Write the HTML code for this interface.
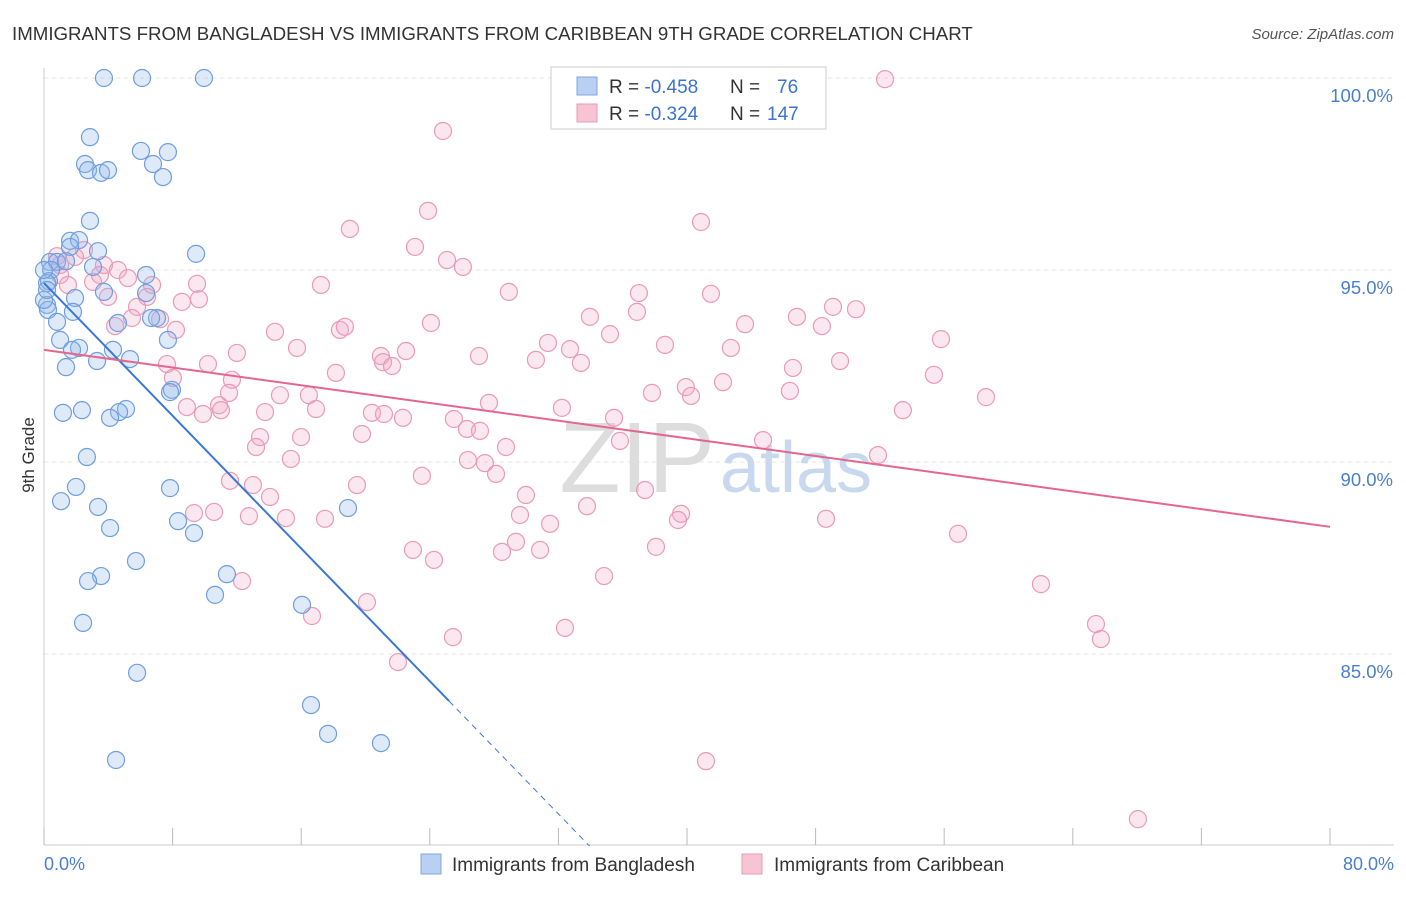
<!DOCTYPE html>
<html><head><meta charset="utf-8"><style>
body{margin:0;background:#fff;font-family:"Liberation Sans",sans-serif;}
svg text{font-family:"Liberation Sans",sans-serif;}
</style></head><body>
<svg width="1406" height="892" xmlns="http://www.w3.org/2000/svg">
<text x="12" y="40" font-size="18.7" fill="#333">IMMIGRANTS FROM BANGLADESH VS IMMIGRANTS FROM CARIBBEAN 9TH GRADE CORRELATION CHART</text>
<text x="1394" y="39" font-size="15" fill="#555" font-style="italic" text-anchor="end">Source: ZipAtlas.com</text>
<g id="grid"></g>
<text x="715" y="492" font-size="100" fill="#ddd" text-anchor="end" font-family="Liberation Serif">ZIP</text>
<text x="720" y="492" font-size="72" fill="#c8d8ee">atlas</text>
<text x="34" y="455" font-size="17" fill="#333" transform="rotate(-90 34 455)" text-anchor="middle">9th Grade</text>
<g id="pts"></g>
<g id="lines"></g>
<g>
<rect x="551" y="67" width="275" height="62" fill="#fff" stroke="#ccc"/>
<rect x="577" y="77" width="20" height="18" fill="#b9d0f2" stroke="#7fa6e0"/>
<rect x="577" y="104" width="20" height="18" fill="#f7c4d4" stroke="#eb9ab5"/>
<text x="609" y="93" font-size="19" fill="#333">R = <tspan fill="#3b73d0">-0.458</tspan></text>
<text x="730" y="93" font-size="19" fill="#333">N =</text>
<text x="777" y="93" font-size="19" fill="#3b73d0">76</text>
<text x="609" y="120" font-size="19" fill="#333">R = <tspan fill="#3b73d0">-0.324</tspan></text>
<text x="730" y="120" font-size="19" fill="#333">N =</text>
<text x="767" y="120" font-size="19" fill="#3b73d0">147</text>
</g>
<g>
<rect x="421" y="854" width="20" height="20" fill="#b9d0f2" stroke="#7fa6e0"/>
<text x="452" y="871" font-size="19" fill="#333">Immigrants from Bangladesh</text>
<rect x="742" y="854" width="20" height="20" fill="#f7c4d4" stroke="#eb9ab5"/>
<text x="774" y="871" font-size="19" fill="#333">Immigrants from Caribbean</text>
</g>
</svg>
<script>
const yTicks=[100,95,90,85];
const xTickLabels=["0.0%","80.0%"];
const blueX=[3.73,6.10,9.95,2.86,6.03,7.71,2.55,6.78,2.74,3.55,3.98,7.40,2.86,1.62,2.18,3.36,1.62,9.46,0.37,0.81,1.37,0.44,3.05,6.35,0.31,0.19,3.73,6.35,1.93,0.19,0.25,1.80,7.03,6.66,4.60,0.81,1.0,2.18,1.74,4.29,7.71,3.30,1.37,5.35,7.96,7.84,5.10,4.67,2.36,1.18,4.11,2.67,1.99,7.84,1.06,3.36,8.34,18.91,4.11,9.33,5.72,3.55,2.74,11.38,10.64,2.43,16.05,5.79,16.61,17.67,20.96,4.48,0,0,0.19];
const blueY=[100,100,100,98.46,98.10,98.07,97.76,97.76,97.60,97.53,97.60,97.42,96.28,95.76,95.78,95.49,95.60,95.42,95.21,95.21,95.23,95.0,95.08,94.87,94.71,94.66,94.43,94.40,94.27,94.09,93.96,93.91,93.75,93.75,93.62,93.65,93.18,92.97,92.92,92.92,93.18,92.63,92.47,92.68,91.88,91.82,91.38,91.30,91.35,91.28,91.15,90.13,89.35,89.32,88.98,88.83,88.46,88.80,88.28,88.15,87.42,87.03,86.90,87.08,86.54,85.81,86.28,84.51,83.67,82.92,82.68,82.24,95.0,94.22,94.48];
const pinkX=[52.32,24.82,23.89,40.87,19.03,23.08,25.07,26.06,2.49,1.93,0.81,1.0,3.73,4.60,5.22,17.23,28.92,37.01,41.49,6.72,9.52,3.05,3.98,6.41,9.64,8.58,5.79,49.08,50.51,33.96,7.22,36.89,46.84,43.61,24.07,4.42,8.21,18.41,18.72,14.37,48.39,55.80,31.35,38.63,5.47,12.0,15.74,22.52,32.72,42.73,20.96,27.06,21.09,10.20,7.65,21.65,30.60,33.40,35.21,49.52,46.59,18.16,42.24,55.36,11.69,37.82,39.93,40.25,46.40,58.60,8.02,11.51,16.48,14.68,27.68,8.89,10.89,11.01,13.75,9.89,16.92,22.33,20.40,21.15,32.22,25.50,35.46,26.31,27.12,53.43,13.44,15.99,19.78,35.83,28.74,13.19,15.36,26.37,27.43,44.73,51.88,28.12,23.51,11.57,19.47,37.39,29.98,14.06,13.0,10.58,9.33,12.75,15.05,17.48,29.61,33.78,39.63,39.44,31.48,48.65,56.86,29.36,30.86,28.49,38.07,22.95,24.26,34.84,12.32,20.09,16.67,62.02,25.44,32.41,22.02,65.44,65.75,41.18,68.05,1.0,1.49,3.48];
const pinkY=[99.97,98.62,96.54,96.25,96.07,95.60,95.26,95.08,95.52,95.34,95.36,95.13,95.13,95.0,94.79,94.61,94.43,94.40,94.38,94.61,94.64,94.69,94.30,94.30,94.24,94.17,94.04,94.04,93.98,93.78,93.72,93.91,93.78,93.59,93.62,93.54,93.44,93.44,93.52,93.39,93.54,93.20,93.10,93.05,93.75,92.84,92.97,92.89,92.94,92.97,92.76,92.76,92.60,92.55,92.55,92.50,92.66,92.58,93.33,92.63,92.45,92.32,92.08,92.27,92.14,91.80,91.95,91.72,91.85,91.69,92.19,91.80,91.74,91.74,91.54,91.43,91.48,91.35,91.30,91.25,91.38,91.15,91.28,91.25,91.41,91.12,91.15,90.86,90.81,91.35,90.65,90.65,90.73,90.55,90.39,90.39,90.08,90.05,89.97,90.57,90.18,89.69,89.64,89.51,89.40,89.27,89.14,89.09,89.40,88.70,88.67,88.59,88.54,88.52,88.62,88.85,88.65,88.49,88.39,88.52,88.13,87.92,87.71,87.66,87.79,87.71,87.45,87.03,86.90,86.35,85.99,86.82,85.44,85.68,84.79,85.78,85.39,82.21,80.70,94.87,94.61,94.87];
const blueTrend=[94.66,-0.432];
const pinkTrend=[92.92,-0.0576];
const NS="http://www.w3.org/2000/svg";
const X=v=>44+v*16.075, Y=v=>78+(100-v)*38.4;
function mk(t,a,p){const e=document.createElementNS(NS,t);for(const k in a)e.setAttribute(k,a[k]);p.appendChild(e);return e;}
const grid=document.getElementById('grid');
yTicks.forEach(t=>{
 const l=mk('line',{x1:44,x2:1394,y1:Y(t),y2:Y(t),stroke:'#e4e4e4','stroke-dasharray':'4,4'},grid);
 
 
 const tx=mk('text',{x:1393,y:Y(t)+24,'font-size':18.5,fill:'#4a7fd0','text-anchor':'end'},grid);
 tx.textContent=t.toFixed(1)+'%';
 
 
});
const ax=mk('line',{x1:44,x2:1394,y1:845,y2:845,stroke:'#ccc'},grid);


const ay=mk('line',{x1:44,x2:44,y1:68,y2:845,stroke:'#ccc'},grid);


for(let i=0;i<=10;i++){
 const t=mk('line',{x1:X(i*8),x2:X(i*8),y1:828,y2:845,stroke:'#bbb'},grid);
 
 
}
[[0,'start',44],[80,'end',1394]].forEach((d,i)=>{
 const t=mk('text',{x:d[2],y:870,'font-size':18,fill:'#4a7fd0','text-anchor':d[1]},grid);
 t.textContent=xTickLabels[i];
 
 
});
const pts=document.getElementById('pts');
pinkX.forEach((v,i)=>{
 const c=mk('circle',{cx:X(v),cy:Y(pinkY[i]),r:8.5,fill:'rgba(242,170,196,0.28)',stroke:'#eb9ab5','stroke-width':1.2},pts);
 
 
});
blueX.forEach((v,i)=>{
 const c=mk('circle',{cx:X(v),cy:Y(blueY[i]),r:8.5,fill:'rgba(150,185,235,0.3)',stroke:'#6f9ee0','stroke-width':1.2},pts);
 
 
});
const lines=document.getElementById('lines');
const bf=x=>blueTrend[0]+blueTrend[1]*x;
const xEnd=(80-blueTrend[0])/blueTrend[1];
const b1=mk('line',{x1:X(0),y1:Y(bf(0)),x2:X(25.2),y2:Y(bf(25.2)),stroke:'#3b78d8','stroke-width':2},lines);


const b2=mk('line',{x1:X(25.2),y1:Y(bf(25.2)),x2:X(xEnd),y2:Y(80),stroke:'#3b78d8','stroke-width':1,'stroke-dasharray':'6,5'},lines);


const pf=x=>pinkTrend[0]+pinkTrend[1]*x;
const p1=mk('line',{x1:X(0),y1:Y(pf(0)),x2:X(80),y2:Y(pf(80)),stroke:'#e4668f','stroke-width':2},lines);


</script>
</body></html>
